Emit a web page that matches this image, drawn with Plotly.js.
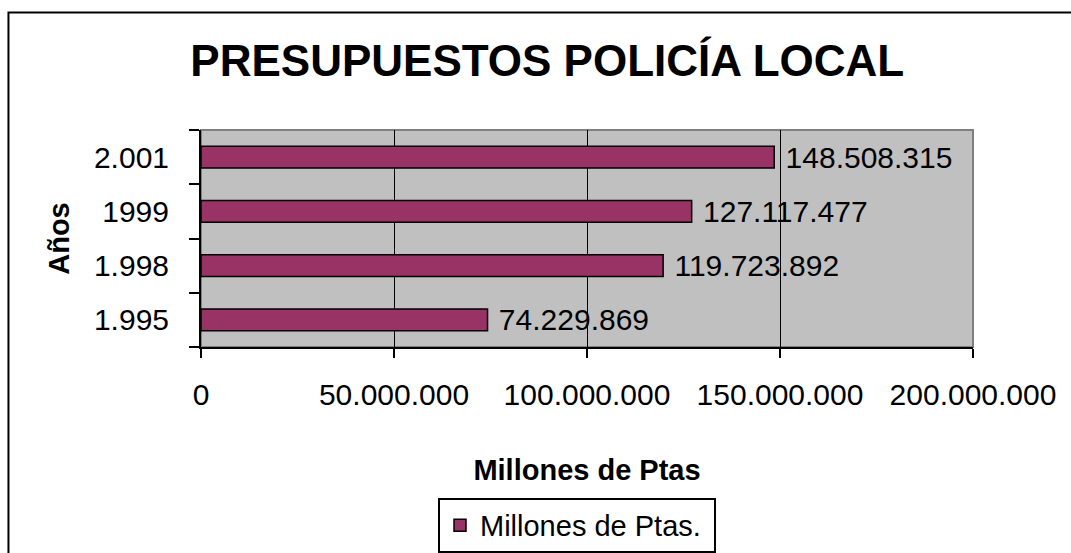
<!DOCTYPE html>
<html>
<head>
<meta charset="utf-8">
<script src="https://cdn.plot.ly/plotly-3.0.1.min.js"></script>
<style>
html,body{margin:0;padding:0;background:#fff;}
#chart{width:1071px;height:553px;}
</style>
</head>
<body>
<div id="chart"></div>
<script>
const categories = ['1.995', '1.998', '1999', '2.001'];
const values = [74229869, 119723892, 127117477, 148508315];
const seriesName = 'Millones de Ptas.';
const xTickVals = [0, 50000000, 100000000, 150000000, 200000000];

const FONT = '"Liberation Sans", Arial, sans-serif';

const trace = {
  type: 'bar',
  orientation: 'h',
  y: categories,
  x: values,
  name: seriesName + '\u00a0',
  marker: {color: '#993366', line: {color: '#000000', width: 1.5}},
  texttemplate: '\u00a0%{x:,d}',
  textposition: 'outside',
  constraintext: 'none',
  cliponaxis: false,
  textfont: {family: FONT, size: 30, color: '#000'},
  showlegend: true,
  hoverinfo: 'skip'
};

const layout = {
  width: 1071,
  height: 553,
  margin: {l: 201, r: 98, t: 130, b: 206, autoexpand: false},
  paper_bgcolor: '#ffffff',
  plot_bgcolor: '#c0c0c0',
  separators: ',.',
  font: {family: FONT, size: 30, color: '#000'},
  title: {
    text: '<b>PRESUPUESTOS POLICÍA LOCAL</b>',
    font: {family: FONT, size: 44, color: '#000'},
    x: 0.511, xanchor: 'center',
    y: 0.89, yanchor: 'middle'
  },
  bargap: 0.6,
  xaxis: {
    range: [0, 200000000],
    tickvals: xTickVals,
    tickformat: ',d',
    showgrid: true,
    gridcolor: '#000',
    gridwidth: 1,
    zeroline: false,
    showline: true,
    linecolor: '#000',
    linewidth: 2,
    ticks: 'outside',
    ticklen: 9,
    tickwidth: 2,
    tickcolor: '#000',
    ticklabelstandoff: 11,
    tickfont: {family: FONT, size: 30, color: '#000'},
    title: {text: '<b>Millones de Ptas</b>', font: {family: FONT, size: 29, color: '#000'}, standoff: 50},
    automargin: false,
    fixedrange: true
  },
  yaxis: {
    type: 'category',
    categoryorder: 'array',
    categoryarray: categories,
    showgrid: false,
    zeroline: false,
    showline: true,
    linecolor: '#000',
    linewidth: 2,
    ticks: 'outside',
    tickson: 'boundaries',
    ticklen: 10,
    tickwidth: 2,
    tickcolor: '#000',
    ticklabelstandoff: 24,
    tickfont: {family: FONT, size: 30, color: '#000'},
    title: {text: '<b>Años</b>', font: {family: FONT, size: 29, color: '#000'}, standoff: 16},
    automargin: false,
    fixedrange: true
  },
  legend: {
    x: 0.307, xanchor: 'left',
    y: -0.695, yanchor: 'top',
    orientation: 'h',
    bgcolor: '#ffffff',
    bordercolor: '#000',
    borderwidth: 2,
    font: {family: FONT, size: 29, color: '#000'}
  },
  shapes: [
    {type: 'rect', xref: 'paper', yref: 'paper', x0: 0, x1: 1, y0: 0, y1: 1,
     line: {color: '#808080', width: 2}, layer: 'below'},
    {type: 'rect', xref: 'paper', yref: 'paper', x0: -0.2494, x1: 1.3, y0: -1.3, y1: 1.5415,
     line: {color: '#000', width: 2}, fillcolor: 'rgba(0,0,0,0)', layer: 'above'}
  ]
};

Plotly.newPlot('chart', [trace], layout, {staticPlot: true, displayModeBar: false});
</script>
</body>
</html>
